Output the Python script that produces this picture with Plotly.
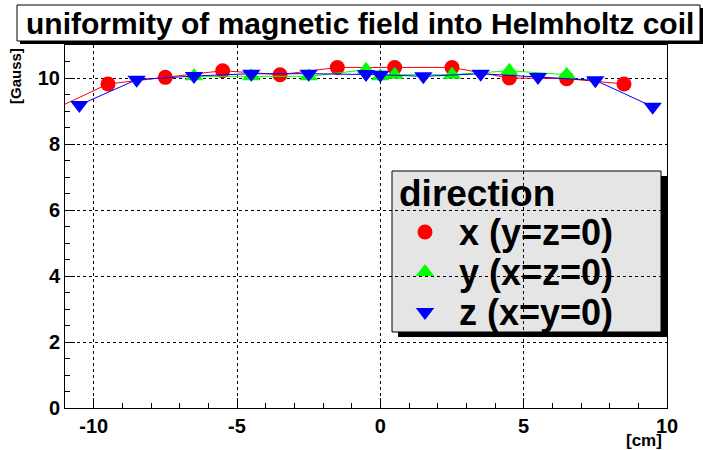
import plotly.graph_objects as go

W, H = 703, 450
ML, MR, MT, MB = 65, 36, 45, 42
PW, PH = W - ML - MR, H - MT - MB

def px(x):
    return (x - ML) / PW

def py(y):
    return (H - MB - y) / PH

# ---- data ----
x_dir_pos = [-11.5, -9.5, -7.5, -5.5, -3.5, -1.5, 0.5, 2.5, 4.5, 6.5, 8.5]
x_dir_val = [9.0, 9.82, 10.02, 10.22, 10.1, 10.32, 10.32, 10.32, 10.0, 9.98, 9.82]

y_dir_pos = [-6.5, -4.5, -2.5, -0.5, 0.0, 0.5, 2.5, 4.5, 6.5]
y_dir_val = [10.05, 10.05, 10.05, 10.25, 10.05, 10.1, 10.1, 10.22, 10.1]

z_dir_pos = [-10.5, -8.5, -6.5, -4.5, -2.5, -0.5, 0.0, 1.5, 3.5, 5.5, 7.5, 9.5]
z_dir_val = [9.18, 9.95, 10.06, 10.13, 10.13, 10.12, 10.1, 10.05, 10.13, 10.03, 9.93, 9.13]

x_tick_vals = [-10, -5, 0, 5, 10]
x_tick_text = ["-10", "-5", "0", "5", "10"]
y_tick_vals = [0, 2, 4, 6, 8, 10]

series_names = ["x (y=z=0)", "y (x=z=0)", "z (x=y=0)"]
series_colors = ["#ff0000", "#00ff00", "#0000ff"]
series_symbols = ["circle", "triangle-up", "triangle-down"]

title_text = "uniformity of magnetic field into Helmholtz coil"
legend_title = "direction"

FONT = "Liberation Sans"

fig = go.Figure()
for xs, ys, col, sym in zip([x_dir_pos, y_dir_pos, z_dir_pos],
                            [x_dir_val, y_dir_val, z_dir_val],
                            series_colors, series_symbols):
    fig.add_trace(go.Scatter(
        x=xs, y=ys, mode="lines+markers",
        line=dict(color=col, width=1),
        marker=dict(color=col, symbol=sym, size=16 if sym != "circle" else 15),
        showlegend=False, cliponaxis=True))

# legend keys drawn on an overlay axis in pixel coordinates
leg_key_x = [425, 425, 425]
leg_key_y = [232, 272, 312]
for i in range(3):
    fig.add_trace(go.Scatter(
        x=[leg_key_x[i]], y=[leg_key_y[i]], mode="markers",
        marker=dict(color=series_colors[i], symbol=series_symbols[i],
                    size=15 if i == 0 else 16),
        xaxis="x2", yaxis="y2", showlegend=False, cliponaxis=False))

axis_common = dict(
    showline=True, linecolor="black", linewidth=1, mirror=True,
    ticks="inside", tickcolor="black", ticklen=10,
    showgrid=True, gridcolor="black", griddash="dot", gridwidth=1,
    zeroline=False,
    tickfont=dict(family=FONT, size=20, color="black", weight="bold"),
)

fig.update_layout(
    width=W, height=H,
    margin=dict(l=ML, r=MR, t=MT, b=MB),
    paper_bgcolor="white", plot_bgcolor="white",
    xaxis=dict(range=[-11, 10], tickvals=x_tick_vals, ticktext=x_tick_text,
               ticklabelstandoff=0,
               minor=dict(dtick=1, tick0=0, ticks="inside", ticklen=5, tickcolor="black", showgrid=False),
               **axis_common),
    yaxis=dict(range=[0, 11], tickvals=y_tick_vals,
               minor=dict(dtick=0.5, tick0=0, ticks="inside", ticklen=5, tickcolor="black", showgrid=False),
               **axis_common),
    xaxis2=dict(range=[ML, W - MR], overlaying="x", visible=False, fixedrange=True),
    yaxis2=dict(range=[H - MB, MT], overlaying="y", visible=False, fixedrange=True),
)

shapes = []
annotations = []

# title box with shadow
shapes.append(dict(type="rect", xref="paper", yref="paper",
                   x0=px(20), x1=px(703), y0=py(44), y1=py(8),
                   fillcolor="black", line=dict(width=0), layer="above"))
shapes.append(dict(type="rect", xref="paper", yref="paper",
                   x0=px(17), x1=px(700), y0=py(41), y1=py(5),
                   fillcolor="white", line=dict(color="black", width=1), layer="above"))
annotations.append(dict(text=title_text, xref="paper", yref="paper",
                        x=px(24), y=py(24), xanchor="left", yanchor="middle",
                        showarrow=False,
                        font=dict(family=FONT, size=30, color="black", weight="bold")))

# legend box with shadow (above grid, below traces)
shapes.append(dict(type="rect", xref="paper", yref="paper",
                   x0=px(398), x1=px(667), y0=py(337), y1=py(176),
                   fillcolor="black", line=dict(width=0), layer="between"))
shapes.append(dict(type="rect", xref="paper", yref="paper",
                   x0=px(392), x1=px(661), y0=py(332), y1=py(171),
                   fillcolor="#e5e5e5", line=dict(color="black", width=1), layer="between"))
annotations.append(dict(text=legend_title, xref="paper", yref="paper",
                        x=px(397), y=py(193), xanchor="left", yanchor="middle",
                        showarrow=False,
                        font=dict(family=FONT, size=37, color="black", weight="bold")))
for i, name in enumerate(series_names):
    annotations.append(dict(text=name, xref="paper", yref="paper",
                            x=px(457), y=py(leg_key_y[i]), xanchor="left", yanchor="middle",
                            showarrow=False,
                            font=dict(family=FONT, size=36, color="black", weight="bold")))

# axis titles
annotations.append(dict(text="[Gauss]", xref="paper", yref="paper",
                        x=px(16), y=py(76), xanchor="center", yanchor="middle",
                        textangle=-90, showarrow=False,
                        font=dict(family=FONT, size=15, color="black", weight="bold")))
annotations.append(dict(text="[cm]", xref="paper", yref="paper",
                        x=px(664), y=py(440), xanchor="right", yanchor="middle",
                        showarrow=False,
                        font=dict(family=FONT, size=17, color="black", weight="bold")))

fig.update_layout(shapes=shapes, annotations=annotations)
fig.write_html("out.html")
